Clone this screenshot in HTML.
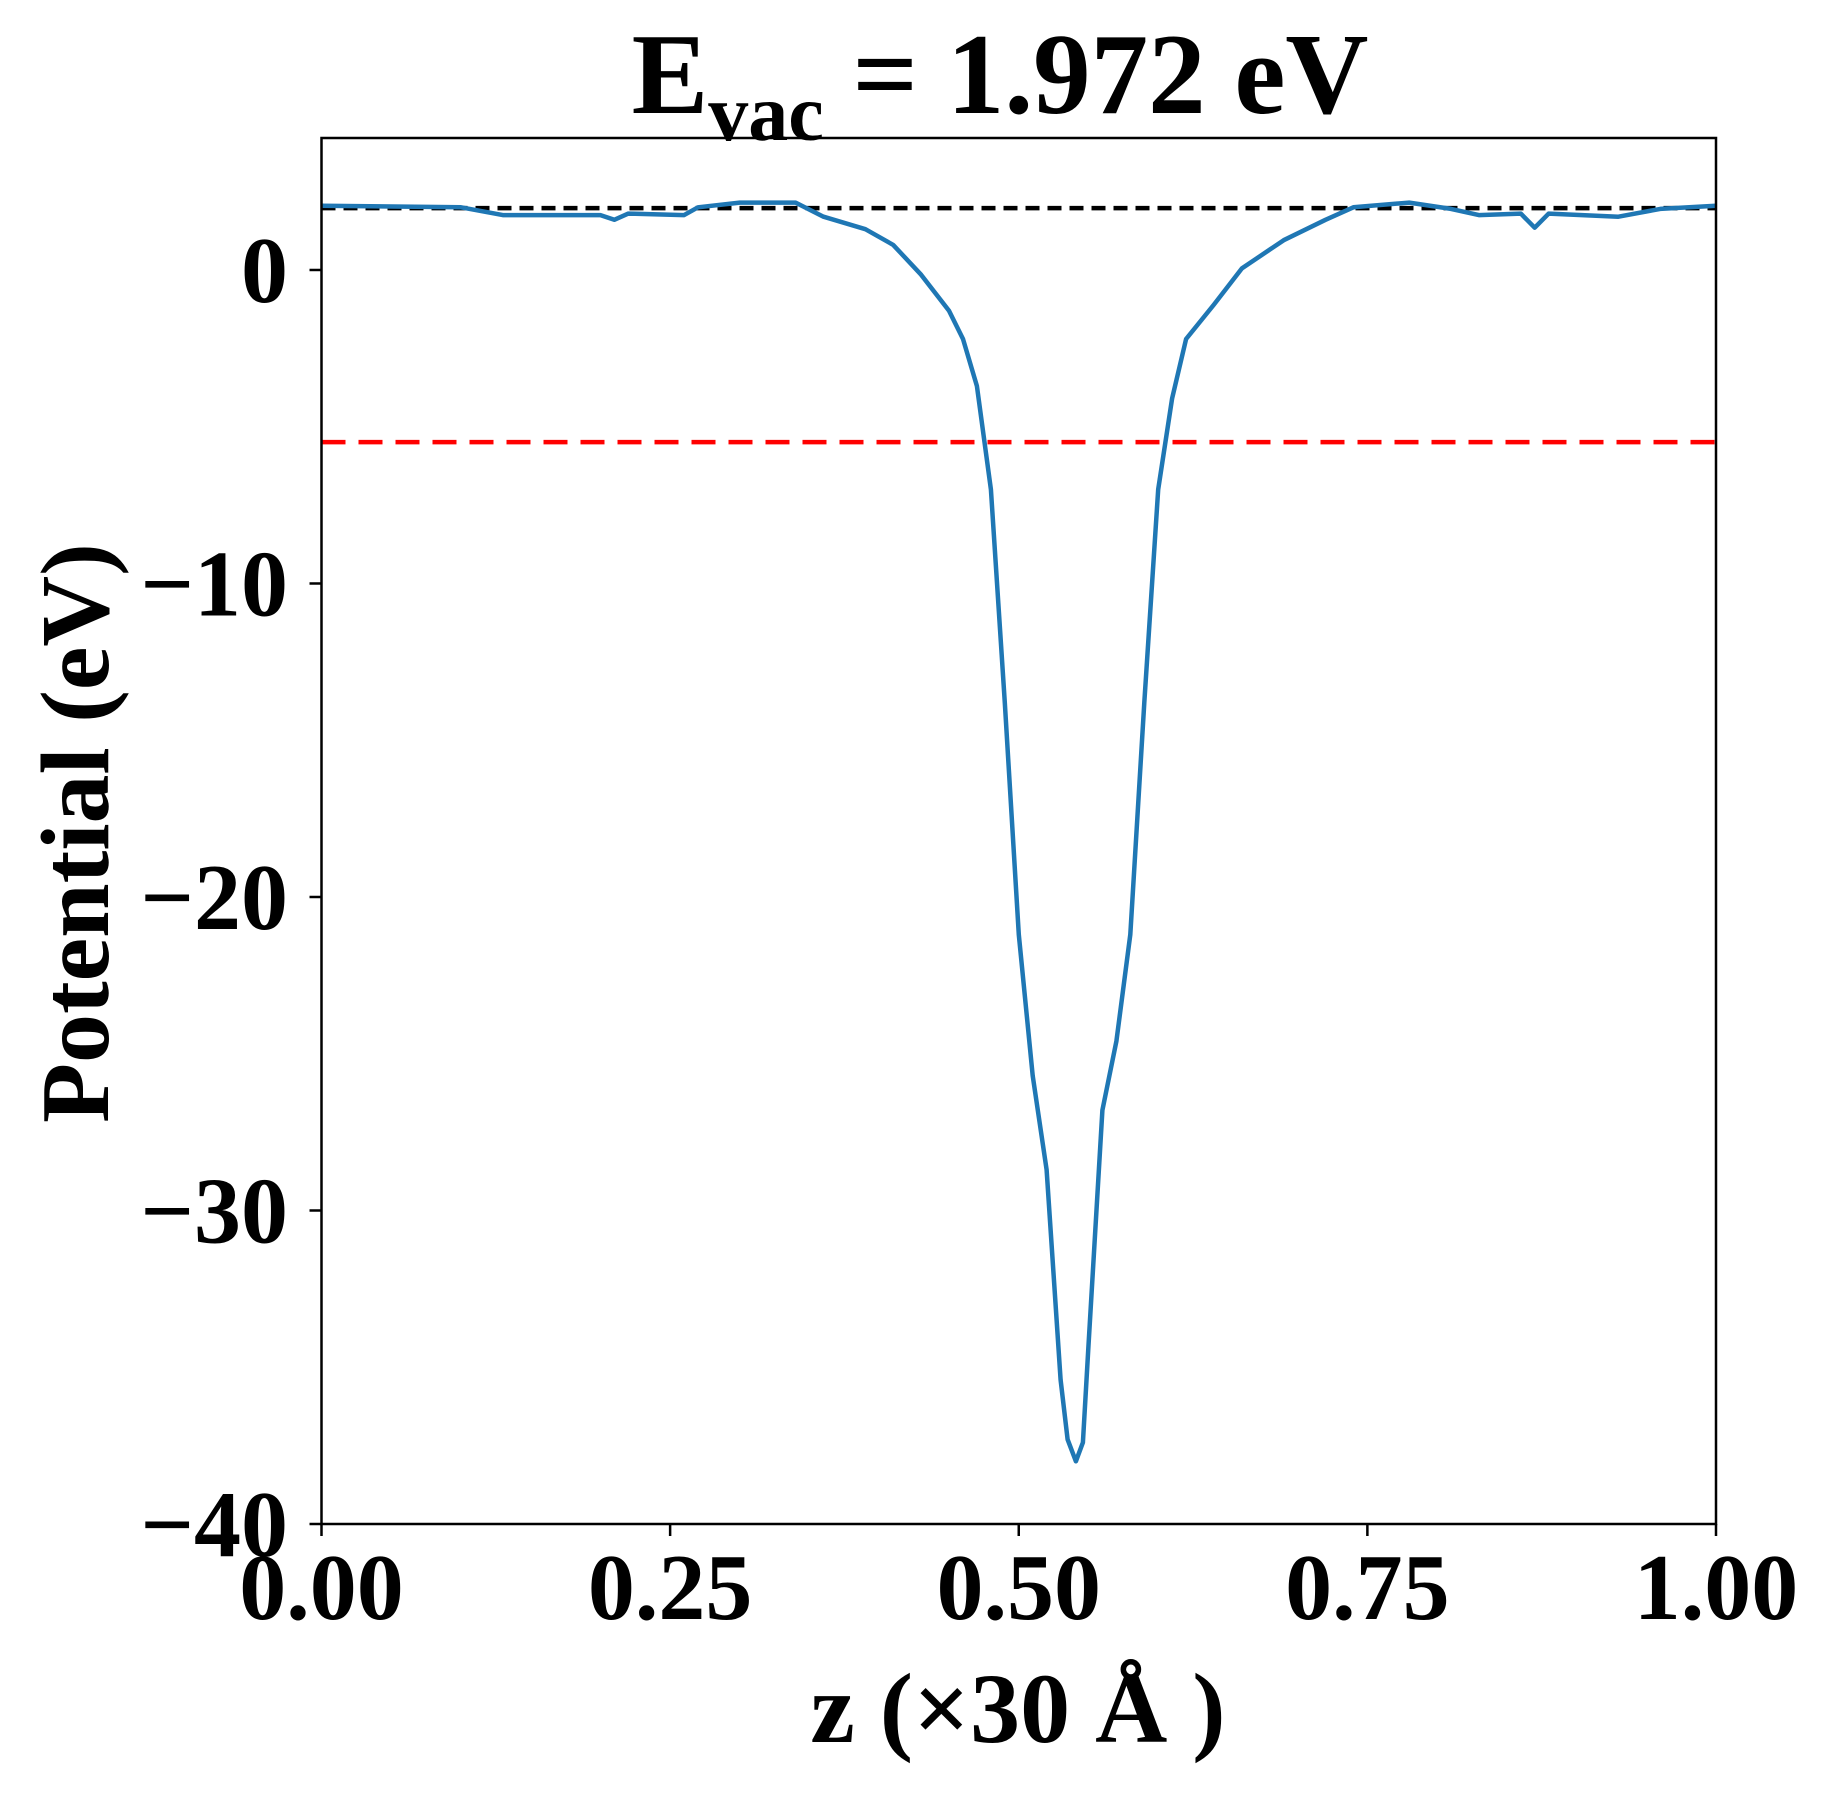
<!DOCTYPE html>
<html><head><meta charset="utf-8"><style>
body{margin:0;background:#fff}
svg{display:block;font-family:"Liberation Serif","DejaVu Serif",serif;font-weight:bold}
</style></head><body>
<svg id="chart" width="1833" height="1794" viewBox="0 0 1833 1794">
<text x="1000" y="113" font-size="115" text-anchor="middle">E<tspan font-size="80" dy="27">vac</tspan><tspan dy="-27"> = 1.972 eV</tspan></text>
<g id="plot"></g>
<text x="1018" y="1742" font-size="100" text-anchor="middle">z (×30 Å )</text>
<text transform="translate(108,833) rotate(-90)" font-size="98" text-anchor="middle">Potential (eV)</text>
</svg>
<script>
const xs=[0,0.1,0.13,0.2,0.21,0.22,0.26,0.27,0.3,0.34,0.36,0.39,0.41,0.43,0.45,0.46,0.47,0.48,0.49,0.50,0.51,0.52,0.53,0.535,0.541,0.546,0.55,0.56,0.57,0.58,0.59,0.60,0.61,0.62,0.64,0.66,0.69,0.72,0.74,0.78,0.81,0.83,0.86,0.87,0.88,0.93,0.96,1.0];
const ys=[2.05,2.0,1.75,1.75,1.6,1.8,1.75,2.0,2.15,2.15,1.7,1.3,0.8,-0.15,-1.3,-2.2,-3.7,-7.0,-13.8,-21.2,-25.7,-28.7,-35.4,-37.3,-38.0,-37.4,-34.3,-26.8,-24.6,-21.2,-13.8,-7.0,-4.1,-2.2,-1.1,0.05,0.95,1.6,2.0,2.15,1.95,1.75,1.8,1.35,1.8,1.7,1.95,2.05];
const xTicks=[0,0.25,0.5,0.75,1.0];
const xTickLabels=["0.00","0.25","0.50","0.75","1.00"];
const yTicks=[0,-10,-20,-30,-40];
const yTickLabels=["0","\u221210","\u221220","\u221230","\u221240"];
const evac=1.972;
const fermi=-5.49;
const L=321.5,R=1716,T=138,B=1524,yMin=-40,yMax=4.21;
const sx=v=>L+(R-L)*v;
const sy=v=>B-(B-T)*(v-yMin)/(yMax-yMin);
const NS="http://www.w3.org/2000/svg";
const g=document.getElementById('plot');
function mk(tag,attrs){const e=document.createElementNS(NS,tag);for(const k in attrs)e.setAttribute(k,attrs[k]);g.appendChild(e);return e;}
let el;
el=mk('line',{x1:L,x2:R,y1:sy(evac),y2:sy(evac),stroke:'#000','stroke-width':4.5,'stroke-dasharray':'14 8'});


el=mk('line',{x1:L,x2:R,y1:sy(fermi),y2:sy(fermi),stroke:'#f00','stroke-width':4.5,'stroke-dasharray':'24 13'});


const d=xs.map((x,i)=>(i?'L':'M')+sx(x).toFixed(1)+' '+sy(ys[i]).toFixed(1)).join(' ');
el=mk('path',{d:d,fill:'none',stroke:'#1f77b4','stroke-width':4.5,'stroke-linejoin':'round'});


el=mk('rect',{x:L,y:T,width:R-L,height:B-T,fill:'none',stroke:'#000','stroke-width':2.5});


xTicks.forEach((v,i)=>{
 const t=mk('line',{x1:sx(v),x2:sx(v),y1:B,y2:B+12,stroke:'#000','stroke-width':2.5});
 
 
 const tx=mk('text',{x:sx(v),y:1619,'font-size':94,'text-anchor':'middle'});
 tx.textContent=xTickLabels[i];
 
 
});
yTicks.forEach((v,i)=>{
 const t=mk('line',{x1:L-12,x2:L,y1:sy(v),y2:sy(v),stroke:'#000','stroke-width':2.5});
 
 
 const tx=mk('text',{x:288,y:sy(v)+32,'font-size':94,'text-anchor':'end'});
 tx.textContent=yTickLabels[i];
 
 
});
</script>
</body></html>
